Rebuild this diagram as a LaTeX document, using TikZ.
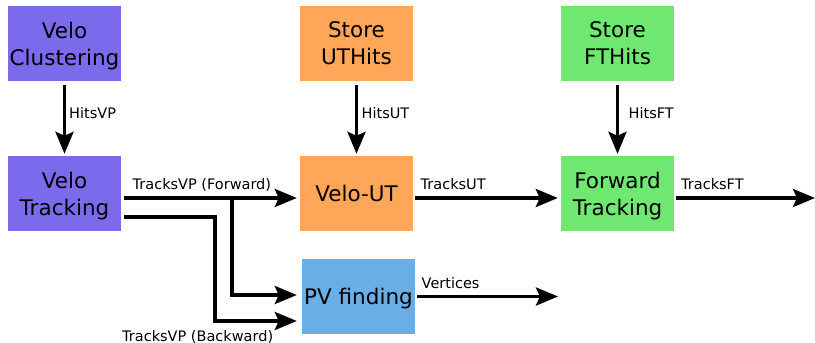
\documentclass[tikz,border=0pt]{standalone}
\usepackage{fontspec}
\setmainfont{DejaVu Sans}
\usetikzlibrary{
  arrows.meta,
  positioning
}
\definecolor{velocol}{RGB}{123,106,236}
\definecolor{utcol}{RGB}{255,166,88}
\definecolor{ftcol}{RGB}{110,232,112}
\definecolor{pvcol}{RGB}{106,174,232}
\tikzset{
  algo/.style={
    minimum width=113pt,
    minimum height=75pt,
    inner sep=0pt,
    text depth=0pt,
    align=center,
    font=\fontsize{21.5pt}{27pt}\selectfont
  },
  flow/.style={
    draw,
    line width=3.6pt,
    -{Stealth[length=22pt,width=18pt,inset=4pt]}
  },
  lbl/.style={
    anchor=base west,
    inner sep=0pt,
    font=\fontsize{14.5pt}{16pt}\selectfont
  }
}
\begin{document}
\begin{tikzpicture}[
    x=1pt,
    y=-1pt
  ]
  \useasboundingbox (0,0) rectangle (815,343);

  \node[algo, fill=velocol] (veloclus) at (64.5,43.5) {Velo\\Clustering};
  \node[algo, fill=utcol] (storeut) at (356.5,43.5) {Store\\UTHits};
  \node[algo, fill=ftcol] (storeft) at (617.5,43.5) {Store\\FTHits};
  \node[algo, fill=velocol] (velotrack) at (64.5,193.5) {Velo\\Tracking};
  \node[algo, fill=utcol] (velout) at (356.5,193.5) {Velo-UT};
  \node[algo, fill=ftcol] (fwdtrack) at (617.5,193.5) {Forward\\Tracking};
  \node[algo, fill=pvcol] (pvfind) at (358.5,296.5) {PV finding};

  \coordinate (fwdout) at ([yshift=-4.5pt]velotrack.east);
  \coordinate (bwdout) at ([yshift=-23.5pt]velotrack.east);
  \coordinate (pvin) at ([yshift=1.5pt]pvfind.west);
  \coordinate (pvbwd) at ([yshift=-24.5pt]pvfind.west);
  \coordinate (utout) at ([yshift=-4.5pt]velout.east);
  \coordinate (ftout) at ([yshift=-4.5pt]fwdtrack.east);
  \coordinate (pvout) at (pvfind.east);
  \coordinate (ftend) at (815,198);
  \coordinate (vtxend) at (558,296.5);

  \path[flow, shorten <=4pt, shorten >=2pt] (veloclus) -- (velotrack);
  \path[flow, shorten <=4pt, shorten >=2pt] (storeut) -- (velout);
  \path[flow, shorten <=4pt, shorten >=2pt] (storeft) -- (fwdtrack);

  \path[flow, shorten <=2.5pt, shorten >=3pt] (fwdout) -- (velout.west |- fwdout);
  \path[flow, shorten >=5pt] ([xshift=111pt]fwdout) |- (pvin);
  \path[flow, shorten >=5pt] ([xshift=2.5pt]bwdout) -- ([xshift=94pt]bwdout) |- (pvbwd);
  \path[flow, shorten <=2pt, shorten >=3pt] (utout) -- (fwdtrack.west |- utout);
  \path[flow, shorten <=2pt] (ftout) -- (ftend);
  \path[flow, shorten <=1.5pt] (pvout) -- (vtxend);

  \node[lbl] (lhitsvp) at (69,118) {HitsVP};
  \node[lbl] (lhitsut) at (361.5,118) {HitsUT};
  \node[lbl] (lhitsft) at (628.5,118) {HitsFT};
  \node[lbl] (ltracksfwd) at (132.5,189) {TracksVP (Forward)};
  \node[lbl] (ltracksbwd) at (122,341) {TracksVP (Backward)};
  \node[lbl] (ltracksut) at (420.5,189) {TracksUT};
  \node[lbl] (ltracksft) at (681,189) {TracksFT};
  \node[lbl] (lvertices) at (421.5,288.5) {Vertices};
\end{tikzpicture}
\end{document}
